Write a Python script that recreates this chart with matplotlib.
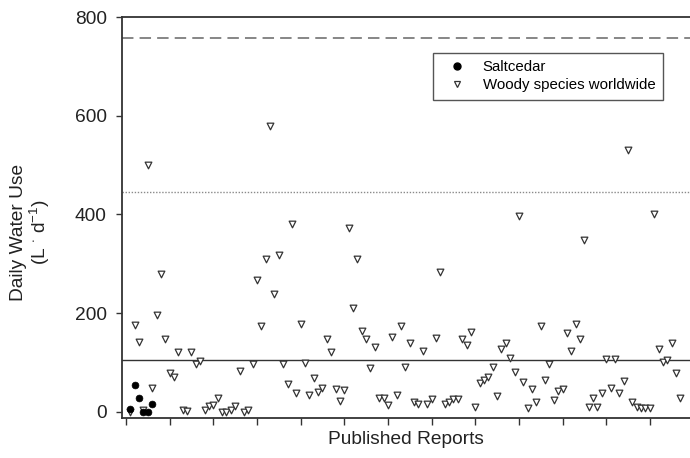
import matplotlib
matplotlib.use("Agg")
import matplotlib.pyplot as plt
from matplotlib.lines import Line2D

plt.rcParams['font.family'] = ['Liberation Sans', 'DejaVu Sans']
plt.rcParams['mathtext.fontset'] = 'custom'
plt.rcParams['mathtext.rm'] = 'Liberation Sans'
plt.rcParams['mathtext.it'] = 'Liberation Sans'

# ---- data ----
saltcedar_x = [1, 2, 3, 4, 5, 6]
saltcedar_y = [5, 55, 28, 0, 0, 15]

woody_x = list(range(1, 128))
woody_y = [
    0, 176, 141, 4, 500, 49, 196, 279, 147, 78,
    70, 122, 3, 2, 122, 96, 102, 4, 12, 13,
    27, 0, 0, 3, 12, 83, 0, 3, 96, 267,
    173, 309, 580, 238, 318, 96, 56, 380, 37, 178,
    98, 33, 68, 39, 49, 148, 121, 46, 21, 45,
    372, 211, 309, 164, 148, 88, 132, 27, 27, 13,
    151, 33, 173, 91, 139, 20, 16, 123, 16, 26,
    149, 284, 16, 20, 25, 25, 148, 136, 162, 10,
    59, 64, 71, 91, 31, 127, 139, 108, 81, 396,
    61, 7, 47, 20, 173, 64, 97, 23, 42, 47,
    160, 123, 178, 148, 348, 10, 27, 10, 37, 107,
    48, 106, 38, 62, 531, 19, 10, 7, 7, 7,
    401, 127, 101, 104, 139, 78, 27,
]

ref_solid = 104
ref_dotted = 445
ref_dashed = 757

y_ticks = [0, 200, 400, 600, 800]
x_ticks = list(range(0, 130, 10))

# ---- figure ----
W, H = 690, 458
fig = plt.figure(figsize=(W / 100, H / 100), dpi=100)
ax = fig.add_axes([122 / W, (H - 418.3) / H, (W - 122) / W, (418.3 - 17.3) / H])

spine_c = '#333333'
ax.axhline(ref_solid, color='#333333', lw=1.0, zorder=1)
ax.axhline(ref_dotted, color='#8a8a8a', lw=1.0, ls=(0, (1, 1.2)), zorder=1)
ax.axhline(ref_dashed, color='#666666', lw=1.1, ls=(0, (7.5, 4)), zorder=1)

ax.scatter(woody_x, woody_y, marker='v', s=23, facecolors='white',
           edgecolors='#333333', linewidths=0.9, zorder=3)
ax.scatter(saltcedar_x, saltcedar_y, marker='o', s=24, facecolors='black',
           edgecolors='black', linewidths=0.5, zorder=4)

ax.set_xlim(-0.92, 129.2)
ax.set_ylim(-13.4, 800)
ax.set_yticks(y_ticks)
ax.set_yticklabels([str(v) for v in y_ticks])
ax.set_xticks(x_ticks)
ax.set_xticklabels([])

for s in ['left', 'top', 'bottom']:
    ax.spines[s].set_color(spine_c)
    ax.spines[s].set_linewidth(1.3)
ax.spines['right'].set_visible(False)

ax.tick_params(axis='y', direction='out', length=4.5, width=1.0, color=spine_c,
               labelsize=13.8, labelcolor='#222222', pad=6.5)
ax.tick_params(axis='x', direction='out', length=5, width=1.0, color=spine_c)

fig.text(31 / W, 1 - 232 / H, 'Daily Water Use\n(L $^{\\cdot}$ d$^{-1}$)',
         rotation=90, ha='center', va='center', fontsize=13.8,
         color='#222222', multialignment='center', linespacing=1.1)
fig.text(406 / W, 1 - 440 / H, 'Published Reports', ha='center', va='center',
         fontsize=13.8, color='#222222')

handles = [
    Line2D([], [], ls='none', marker='o', markersize=5, markerfacecolor='black',
           markeredgecolor='black'),
    Line2D([], [], ls='none', marker='v', markersize=5, markerfacecolor='white',
           markeredgecolor='#333333', markeredgewidth=0.9),
]
leg = fig.legend(handles, ['Saltcedar', 'Woody species worldwide'],
                 loc='upper left', bbox_to_anchor=(432.7 / W, 1 - 52.7 / H),
                 bbox_transform=fig.transFigure, fontsize=10.8, frameon=True,
                 fancybox=False, framealpha=1, borderpad=0.5, handlelength=2.2,
                 handletextpad=0.63, labelspacing=0.28, borderaxespad=0)
leg.get_frame().set_edgecolor('#555555')
leg.get_frame().set_linewidth(1.0)

fig.savefig('out.png', dpi=100)
